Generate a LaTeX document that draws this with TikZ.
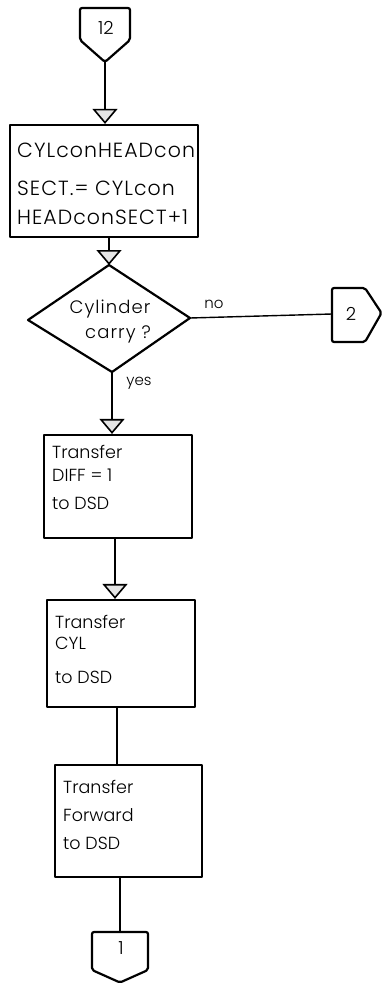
\documentclass[tikz,border=0pt]{standalone}
\usepackage{fontspec}
\setmainfont{Poppins}[UprightFont=* Light]
\usetikzlibrary{arrows.meta,calc}
\tikzset{
  shapeline/.style={draw=black, line width=2.2pt, line join=round},
  boxnode/.style={shapeline, rectangle, inner sep=0pt},
  txt/.style={inner sep=0pt, anchor=west, font=\fontsize{17.5}{19}\selectfont},
  bigtxt/.style={inner sep=0pt, anchor=west, font=\fontsize{20.5}{22}\selectfont\addfontfeature{LetterSpace=5}},
  ctxt/.style={inner sep=0pt, font=\fontsize{18}{20}\selectfont},
  dtxt/.style={inner sep=0pt, font=\fontsize{18}{20}\selectfont\addfontfeature{LetterSpace=6}},
  lbl/.style={inner sep=0pt, font=\fontsize{15}{17}\selectfont},
  flow/.style={draw=black, line width=1.4pt},
  arr/.style={flow, -{Triangle[length=15pt, width=25pt, fill=gray!20, line width=1.6pt]}}
}
\begin{document}
\begin{tikzpicture}[x=1pt, y=1pt]
\useasboundingbox (0,0) rectangle (383,-984);

% connector 12
\draw[shapeline, rounded corners=2pt] (80,-8) -- (130,-8) -- (130,-40) -- (105,-62) -- (80,-40) -- cycle;
\node[ctxt] (c12) at (106,-28) {12};
\coordinate (c12tip) at (105,-62);

% box 1
\node[boxnode, minimum width=188pt, minimum height=112pt] (b1) at (104,-181) {};
\node[bigtxt] (t11) at (17,-150) {CYLconHEADcon};
\node[bigtxt] (t12) at (17,-188) {SECT.= CYLcon};
\node[bigtxt] (t13) at (17,-217) {HEADconSECT+1};

% decision
\draw[shapeline] (109,-265) coordinate (dN) -- (190,-318) coordinate (dE) -- (112,-372) coordinate (dS) -- (28,-320) coordinate (dW) -- cycle;
\node[dtxt] (d1) at (110,-309) {Cylinder};
\node[dtxt] (d2) at (118,-334) {carry ?};

% connector 2
\draw[shapeline, rounded corners=2pt] (332,-288) -- (365,-288) -- (381.5,-313) -- (365,-342) -- (332,-342) -- cycle;
\node[ctxt] (c2) at (351,-314) {2};
\coordinate (c2W) at (332,-314);

% boxes 2-4
\node[boxnode, minimum width=148pt, minimum height=103pt] (b2) at (118,-486.5) {};
\node[txt] (t21) at (52,-452) {Transfer};
\node[txt] (t22) at (52,-475) {DIFF = 1};
\node[txt] (t23) at (52,-503) {to DSD};

\node[boxnode, minimum width=148pt, minimum height=107pt] (b3) at (121,-653.5) {};
\node[txt] (t31) at (55,-622) {Transfer};
\node[txt] (t32) at (55,-643) {CYL};
\node[txt] (t33) at (55,-677) {to DSD};

\node[boxnode, minimum width=147pt, minimum height=112pt] (b4) at (128.5,-821) {};
\node[txt] (t41) at (63,-787) {Transfer};
\node[txt] (t42) at (63,-815) {Forward};
\node[txt] (t43) at (63,-843) {to DSD};

% connector 1
\draw[shapeline, rounded corners=2pt] (92,-932) -- (148,-932) -- (148,-970) -- (120,-982.5) -- (92,-970) -- cycle;
\node[ctxt] (c1) at (121,-948) {1};
\coordinate (c1top) at (120,-932);

% flow lines
\draw[arr] (c12tip) -- (c12tip |- b1.north);
\draw[arr] (dN |- b1.south) -- (dN);
\draw[arr] (dS) -- (dS |- b2.north);
\draw[flow] (dE) -- (c2W);
\node[lbl] (no) at (214,-304) {no};
\node[lbl] (yes) at (139,-383) {yes};
\draw[arr] ([xshift=-3pt]b2.south) -- ([xshift=-3pt]b2.south |- b3.north);
\draw[flow] ([xshift=-4pt]b3.south) -- ([xshift=-4pt]b3.south |- b4.north);
\draw[flow] (c1top |- b4.south) -- (c1top);
\end{tikzpicture}
\end{document}
